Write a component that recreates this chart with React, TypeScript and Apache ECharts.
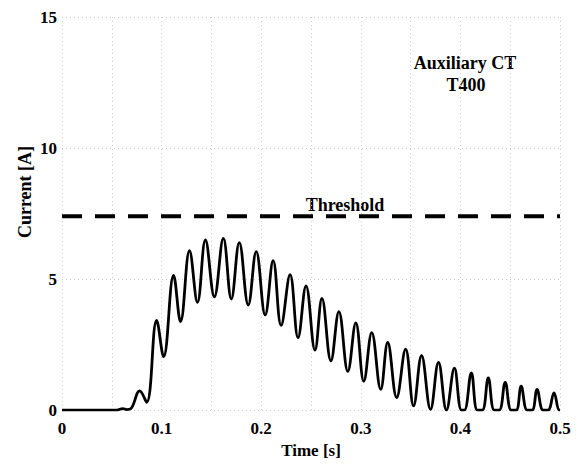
import React, { useEffect, useRef } from "react";
import * as echarts from "echarts";

const waveTime = [
  0, 0.055, 0.061, 0.065, 0.069, 0.078, 0.085, 0.095, 0.102, 0.112, 0.119, 0.128,
  0.136, 0.144, 0.153, 0.162, 0.17, 0.178, 0.187, 0.195, 0.204, 0.212, 0.22, 0.229,
  0.237, 0.245, 0.254, 0.261, 0.27, 0.278, 0.287, 0.295, 0.303, 0.311, 0.32, 0.327,
  0.336, 0.345, 0.353, 0.361, 0.37, 0.378, 0.386, 0.394, 0.401, 0.404, 0.411, 0.417,
  0.422, 0.428, 0.434, 0.439, 0.445, 0.451, 0.456, 0.461, 0.467, 0.472, 0.477, 0.483,
  0.488, 0.494, 0.499, 0.5,
];
const waveCurrent = [
  0, 0, 0.06, 0.02, 0.05, 0.73, 0.3, 3.42, 2.04, 5.14, 3.38, 6.08,
  4.11, 6.49, 4.32, 6.55, 4.24, 6.39, 4.01, 6.05, 3.63, 5.7, 3.23, 5.17,
  2.76, 4.74, 2.29, 4.26, 1.88, 3.76, 1.48, 3.33, 1.1, 2.96, 0.79, 2.58,
  0.48, 2.33, 0.16, 2.08, 0.03, 1.82, 0, 1.6, 0, 0, 1.42, 0,
  0, 1.23, 0, 0, 1.06, 0, 0, 0.91, 0, 0, 0.79, 0,
  0, 0.66, 0, 0,
];
const thresholdTime = [0, 0.5];
const thresholdValue = [7.4, 7.4];
const xTicks = [0, 0.1, 0.2, 0.3, 0.4, 0.5];
const yTicks = [0, 5, 10, 15];

const FONT = "'Liberation Serif', 'Times New Roman', serif";

export default function App() {
  const ref = useRef<HTMLDivElement>(null);
  useEffect(() => {
    document.body.style.margin = "0";
    if (!ref.current) return;
    const chart = echarts.init(ref.current, undefined, { renderer: "svg" });
    const gridLine = { show: true, lineStyle: { color: "#cfcfcf", type: [1, 3] as any, width: 1 } };
    chart.setOption({
      animation: false,
      backgroundColor: "#fff",
      grid: { left: 62, right: 21, top: 17, bottom: 48, containLabel: false },
      xAxis: {
        type: "value",
        min: 0,
        max: 0.5,
        interval: 0.05,
        name: "Time [s]",
        nameLocation: "middle",
        nameGap: 30,
        nameTextStyle: { fontFamily: FONT, fontWeight: "bold", fontSize: 17, color: "#000" },
        axisLine: { show: false },
        axisTick: { show: false },
        axisLabel: {
          margin: 10,
          fontFamily: FONT,
          fontWeight: "bold",
          fontSize: 17,
          color: "#000",
          formatter: (v: number) => {
            const hit = xTicks.find((t) => Math.abs(t - v) < 1e-6);
            return hit === undefined ? "" : String(hit);
          },
        },
        splitLine: gridLine,
      },
      yAxis: {
        type: "value",
        min: 0,
        max: 15,
        interval: 5,
        axisLine: { show: false },
        axisTick: { show: false },
        axisLabel: {
          margin: 5,
          fontFamily: FONT,
          fontWeight: "bold",
          fontSize: 17,
          color: "#000",
          formatter: (v: number) => (yTicks.includes(v) ? String(v) : ""),
        },
        splitLine: gridLine,
      },
      series: [
        {
          type: "line",
          data: thresholdTime.map((t, i) => [t, thresholdValue[i]]),
          showSymbol: false,
          lineStyle: { color: "#000", width: 4, type: [20, 13] },
          z: 3,
        },
        {
          type: "line",
          data: waveTime.map((t, i) => [t, waveCurrent[i]]),
          showSymbol: false,
          smooth: 0.4,
          lineStyle: { color: "#000", width: 2.8 },
          z: 4,
        },
      ],
      graphic: [
        {
          type: "text",
          x: 25,
          y: 192,
          rotation: Math.PI / 2,
          style: {
            text: "Current [A]",
            fontFamily: FONT,
            fontWeight: "bold",
            fontSize: 18,
            fill: "#000",
            align: "center",
            verticalAlign: "middle",
          },
        },
        {
          type: "text",
          x: 465,
          y: 63,
          style: {
            text: "Auxiliary CT",
            fontFamily: FONT,
            fontWeight: "bold",
            fontSize: 18,
            fill: "#000",
            align: "center",
            verticalAlign: "middle",
          },
        },
        {
          type: "text",
          x: 466,
          y: 85,
          style: {
            text: "T400",
            fontFamily: FONT,
            fontWeight: "bold",
            fontSize: 18,
            fill: "#000",
            align: "center",
            verticalAlign: "middle",
          },
        },
        {
          type: "text",
          x: 345,
          y: 205,
          style: {
            text: "Threshold",
            fontFamily: FONT,
            fontWeight: "bold",
            fontSize: 18,
            fill: "#000",
            align: "center",
            verticalAlign: "middle",
          },
        },
      ],
    });
    return () => chart.dispose();
  }, []);
  return <div ref={ref} style={{ width: 581, height: 464 }} />;
}
